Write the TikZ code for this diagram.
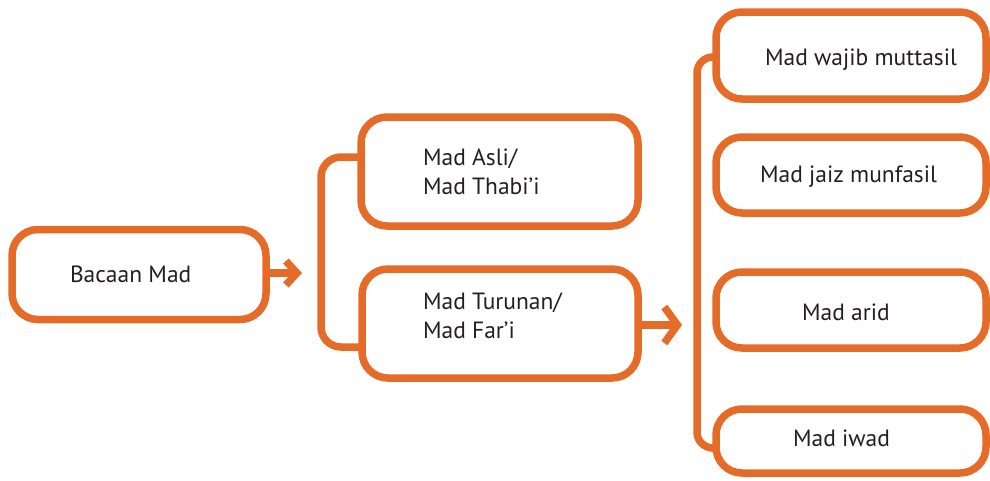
\documentclass[tikz,border=0pt]{standalone}
\usepackage{fontspec}
\setmainfont{PT Sans}
\usetikzlibrary{arrows.meta,positioning}
\definecolor{madorange}{RGB}{228,108,40}
\definecolor{madtext}{RGB}{35,31,32}

\begin{document}
\begin{tikzpicture}[x=1pt,y=-1pt]
\tikzstyle{every node}+=[inner sep=0pt, outer sep=0pt]
\tikzstyle{box}=[draw=madorange, line width=7.5pt, rounded corners=26pt]
\tikzstyle{sidebox}=[box, minimum width=270pt]
\tikzstyle{link}=[madorange, line width=7.5pt]
\tikzstyle{txt}=[text=madtext, font=\fontsize{23.5}{29}\selectfont, text height=17pt, text depth=0pt, align=left]
\useasboundingbox (0,0) rectangle (990,480);
\node [box, minimum width=254pt, minimum height=90pt] (bacaan) at (139,274.5) {};
\node [box, minimum width=277pt, minimum height=109pt] (asli) at (499.5,171.5) {};
\node [box, minimum width=276pt, minimum height=109pt] (turunan) at (500,323.5) {};
\node [sidebox, minimum height=87pt] (wajib) at (851,55.5) {};
\node [sidebox, minimum height=76pt] (jaiz) at (851,175) {};
\node [sidebox, minimum height=76pt] (arid) at (851,310) {};
\node [sidebox, minimum height=64pt] (iwad) at (851,441) {};
\node [txt, right=58pt of bacaan.west, yshift=1pt] (bacaanlbl) {Bacaan Mad};
\node [txt, right=62pt of asli.west, yshift=-14pt] (aslilbl) {Mad Asli/\\Mad Thabi’i};
\node [txt, right=61pt of turunan.west, yshift=-6.5pt] (turunanlbl) {Mad Turunan/\\Mad Far’i};
\node [txt, right=49pt of wajib.west, yshift=-1pt] (wajiblbl) {Mad wajib muttasil};
\node [txt, right=44pt of jaiz.west, yshift=1.5pt] (jaizlbl) {Mad jaiz munfasil};
\node [txt, right=86pt of arid.west, yshift=-1.5pt] (aridlbl) {Mad arid};
\node [txt, right=77pt of iwad.west, yshift=3.5pt] (iwadlbl) {Mad iwad};
\coordinate (tip1) at (302,273);
\coordinate (tip2) at (682,325);
\coordinate (bend1) at (321,250);
\coordinate (bend2) at (697,250);
\draw [link, -{Straight Barb[length=11pt,width=24pt]}] (bacaan.east |- tip1) -- (tip1);
\draw [link, -{Straight Barb[length=13pt,width=36pt]}] (turunan.east |- tip2) -- (tip2);
\draw [link, rounded corners=20pt] ([yshift=14.5pt]asli.west) -| (bend1) |- ([yshift=-23.5pt]turunan.west);
\draw [link, rounded corners=16pt] ([yshift=-1.5pt]wajib.west) -| (bend2) |- ([yshift=-7pt]iwad.west);
\end{tikzpicture}
\end{document}
